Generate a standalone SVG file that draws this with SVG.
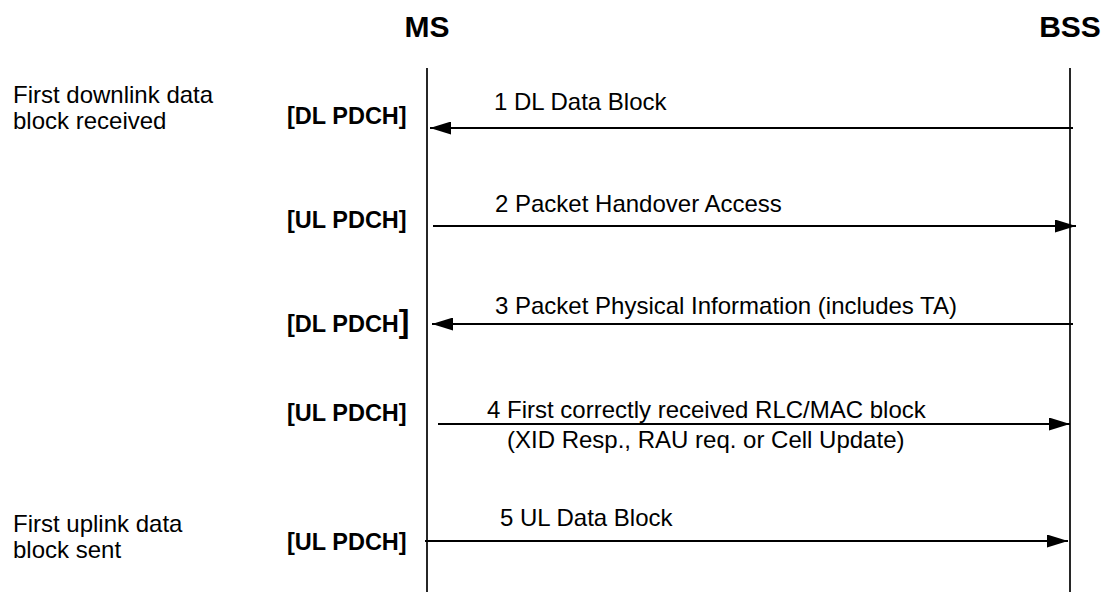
<svg xmlns="http://www.w3.org/2000/svg" width="1109" height="592" viewBox="0 0 1109 592">
<style>
text{font-family:"Liberation Sans",Arial,sans-serif;fill:#000}
.h{font-size:30px;font-weight:bold;text-anchor:middle}
.b{font-size:23.5px;font-weight:bold}
.t{font-size:24px}
.life{stroke:#000;stroke-width:1.7;fill:none}
.msg{stroke:#000;stroke-width:1.8;fill:none}
</style>
<defs>
<marker id="ah" viewBox="0 0 21 13" refX="21" refY="6.5" markerWidth="21" markerHeight="13" markerUnits="userSpaceOnUse" orient="auto">
<path d="M0,0 L21,6.5 L0,13 Z" fill="#000"/>
</marker>
</defs>
<g id="MS">
<text class="h" x="427" y="37">MS</text>
<line class="life" x1="427" y1="68" x2="427" y2="592"/>
</g>
<g id="BSS">
<text class="h" x="1070" y="37">BSS</text>
<line class="life" x1="1070" y1="68" x2="1070" y2="592"/>
</g>
<g id="notes">
<text class="t" x="13" y="103">First downlink data</text>
<text class="t" x="13" y="129">block received</text>
<text class="t" x="13" y="532">First uplink data</text>
<text class="t" x="13" y="558">block sent</text>
<text class="b" x="287" y="124">[DL PDCH]</text>
<text class="b" x="287" y="228">[UL PDCH]</text>
<text class="b" x="287" y="332">[DL PDCH<tspan font-size="32">]</tspan></text>
<text class="b" x="287" y="421">[UL PDCH]</text>
<text class="b" x="287" y="550">[UL PDCH]</text>
</g>
<g id="connectors">
<line class="msg" x1="1073" y1="128" x2="430" y2="128" marker-end="url(#ah)"/>
<line class="msg" x1="433" y1="226" x2="1076" y2="226" marker-end="url(#ah)"/>
<line class="msg" x1="1073" y1="324" x2="432" y2="324" marker-end="url(#ah)"/>
<line class="msg" x1="438" y1="424" x2="1070" y2="424" marker-end="url(#ah)"/>
<line class="msg" x1="425" y1="541" x2="1068" y2="541" marker-end="url(#ah)"/>
</g>
<g id="labels">
<text class="t" x="494" y="110">1 DL Data Block</text>
<text class="t" x="495" y="212">2 Packet Handover Access</text>
<text class="t" x="495" y="314">3 Packet Physical Information (includes TA)</text>
<text class="t" x="487" y="418">4 First correctly received RLC/MAC block</text>
<text class="t" x="507" y="448">(XID Resp., RAU req. or Cell Update)</text>
<text class="t" x="500" y="526">5 UL Data Block</text>
</g>
</svg>
